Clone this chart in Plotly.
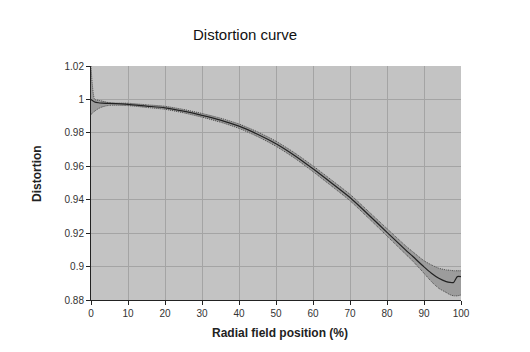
import plotly.graph_objects as go

x_pos = [0, 1, 2, 3, 5, 10, 15, 20, 25, 30, 35, 40, 45, 50, 55, 60, 65, 70, 75, 80,
         85, 87, 90, 92, 94, 96, 97, 98, 99, 100]
center = [1.000, 0.9985, 0.998, 0.9978, 0.9976, 0.997, 0.996, 0.995, 0.993, 0.9905,
          0.9876, 0.9840, 0.9792, 0.9735, 0.9665, 0.9585, 0.950, 0.9413, 0.931, 0.9205,
          0.910, 0.906, 0.8998, 0.896, 0.893, 0.891, 0.8905, 0.8905, 0.894, 0.894]
upper = [1.020, 1.000, 0.9995, 0.999, 0.998, 0.9977, 0.9968, 0.9959, 0.9940, 0.9916,
         0.9888, 0.9853, 0.9806, 0.9750, 0.9681, 0.9602, 0.9518, 0.9432, 0.9330, 0.9227,
         0.9125, 0.9088, 0.9035, 0.901, 0.899, 0.898, 0.8978, 0.8975, 0.8975, 0.8975]
lower = [0.991, 0.993, 0.9945, 0.9955, 0.9965, 0.9963, 0.9952, 0.9941, 0.9920, 0.9894,
         0.9864, 0.9827, 0.9778, 0.9720, 0.9649, 0.9568, 0.9482, 0.9394, 0.9290, 0.9183,
         0.9075, 0.9032, 0.896, 0.891, 0.887, 0.8845, 0.8832, 0.8825, 0.8825, 0.883]

y_ticks = [0.88, 0.9, 0.92, 0.94, 0.96, 0.98, 1.0, 1.02]
y_tick_text = ["0.88", "0.9", "0.92", "0.94", "0.96", "0.98", "1", "1.02"]
x_ticks = [0, 10, 20, 30, 40, 50, 60, 70, 80, 90, 100]

fig = go.Figure()
fig.add_trace(go.Scatter(x=x_pos, y=lower, mode="lines",
                         line=dict(color="#4a4a4a", width=1, dash="1px,1px",
                                   shape="spline", smoothing=0.6),
                         showlegend=False, hoverinfo="skip"))
fig.add_trace(go.Scatter(x=x_pos, y=upper, mode="lines", fill="tonexty",
                         fillcolor="#9c9c9c",
                         line=dict(color="#4a4a4a", width=1, dash="1px,1px",
                                   shape="spline", smoothing=0.6),
                         showlegend=False, hoverinfo="skip"))
fig.add_trace(go.Scatter(x=x_pos, y=center, mode="lines",
                         line=dict(color="#222222", width=1.2,
                                   shape="spline", smoothing=0.6),
                         showlegend=False))

font_family = "Liberation Sans, Arial, sans-serif"
fig.update_layout(
    width=530, height=352,
    margin=dict(l=91, r=69, t=66, b=52),
    paper_bgcolor="white",
    plot_bgcolor="#c3c3c3",
    font=dict(family=font_family, color="#222", size=10),
    xaxis=dict(range=[0, 100], tickvals=x_ticks, showgrid=True, gridcolor="#a4a4a4",
               gridwidth=1, zeroline=False, showline=True, linecolor="#222",
               linewidth=1, ticks="outside", ticklen=4, tickcolor="#222",
               tickfont=dict(size=10, color="#333"), mirror=False),
    yaxis=dict(range=[0.88, 1.02], tickvals=y_ticks, ticktext=y_tick_text,
               showgrid=True, gridcolor="#a4a4a4", gridwidth=1, zeroline=False,
               showline=True, linecolor="#222", linewidth=1, ticks="outside",
               ticklen=4, tickcolor="#222", tickfont=dict(size=10, color="#333")),
)
plot_w = 530 - 91 - 69
plot_h = 352 - 66 - 52
fig.update_layout(annotations=[
    dict(text="Distortion curve", x=(245 - 91) / plot_w, y=(300 - 34) / plot_h,
         xref="paper", yref="paper", showarrow=False, yanchor="middle",
         font=dict(size=15, color="#111")),
    dict(text="<b>Radial field position (%)</b>", x=(279.5 - 91) / plot_w,
         y=(300 - 333) / plot_h, xref="paper", yref="paper", showarrow=False,
         yanchor="middle", font=dict(size=12, color="#222")),
    dict(text="<b>Distortion</b>", x=(37 - 91) / plot_w, y=(300 - 174) / plot_h,
         xref="paper", yref="paper", showarrow=False, textangle=-90,
         xanchor="center", font=dict(size=12, color="#222")),
])

fig.write_html("out.html")
